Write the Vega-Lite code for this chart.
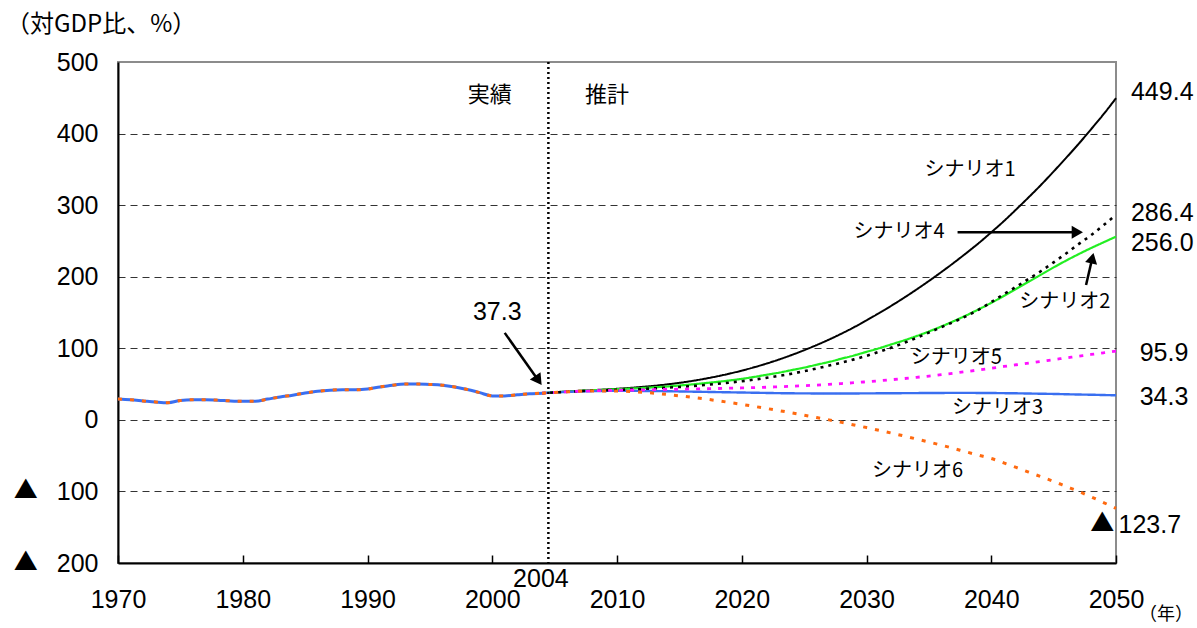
{
  "$schema": "https://vega.github.io/schema/vega-lite/v6.json",
  "width": 998,
  "height": 501,
  "autosize": "none",
  "padding": {"left": 118, "top": 62, "right": 81, "bottom": 65},
  "background": "white",
  "config": {
    "view": {"stroke": "#8c8c8c", "strokeWidth": 2},
    "font": "Liberation Sans"
  },
  "title": {
    "text": "（対GDP比、%）",
    "anchor": "start",
    "frame": "group",
    "dx": -112,
    "offset": 13,
    "font": "Noto Sans CJK JP",
    "fontSize": 24,
    "fontWeight": "normal",
    "color": "black"
  },
  "datasets": {
    "actual": [
      {"year": 1970, "value": 29}, {"year": 1971, "value": 28}, {"year": 1972, "value": 26.5},
      {"year": 1973, "value": 25}, {"year": 1974, "value": 24}, {"year": 1975, "value": 27},
      {"year": 1976, "value": 28}, {"year": 1977, "value": 28}, {"year": 1978, "value": 27.5},
      {"year": 1979, "value": 26.5}, {"year": 1980, "value": 26}, {"year": 1981, "value": 26},
      {"year": 1982, "value": 29}, {"year": 1983, "value": 32}, {"year": 1984, "value": 34.5},
      {"year": 1985, "value": 37.5}, {"year": 1986, "value": 40}, {"year": 1987, "value": 41.5},
      {"year": 1988, "value": 42}, {"year": 1989, "value": 42}, {"year": 1990, "value": 43},
      {"year": 1991, "value": 46}, {"year": 1992, "value": 48.5}, {"year": 1993, "value": 50},
      {"year": 1994, "value": 50}, {"year": 1995, "value": 49.5}, {"year": 1996, "value": 48.5},
      {"year": 1997, "value": 46}, {"year": 1998, "value": 42.5}, {"year": 1999, "value": 38},
      {"year": 2000, "value": 33.5}, {"year": 2001, "value": 33.5}, {"year": 2002, "value": 35},
      {"year": 2003, "value": 36.5}, {"year": 2004, "value": 37.3}
    ],
    "projection": [
      {"year": 2004, "s1": 37.3, "s2": 37.3, "s3": 37.3, "s4": 37.3, "s5": 37.3, "s6": 37.3},
      {"year": 2005, "s1": 38.5, "s2": 38.5, "s3": 38.3, "s4": 38.3, "s5": 38.3, "s6": 38.3},
      {"year": 2006, "s1": 39.6, "s2": 39.5, "s3": 39.1, "s4": 39.2, "s5": 39.2, "s6": 39.2},
      {"year": 2007, "s1": 40.6, "s2": 40.5, "s3": 39.7, "s4": 40.0, "s5": 40.0, "s6": 39.9},
      {"year": 2008, "s1": 41.5, "s2": 41.3, "s3": 40.1, "s4": 40.7, "s5": 40.5, "s6": 40.3},
      {"year": 2009, "s1": 42.4, "s2": 42.0, "s3": 40.4, "s4": 41.3, "s5": 41.0, "s6": 40.4},
      {"year": 2010, "s1": 43.4, "s2": 42.8, "s3": 40.5, "s4": 41.9, "s5": 41.3, "s6": 40.2},
      {"year": 2011, "s1": 44.6, "s2": 43.6, "s3": 40.5, "s4": 42.5, "s5": 41.6, "s6": 39.6},
      {"year": 2012, "s1": 46.0, "s2": 44.5, "s3": 40.4, "s4": 43.2, "s5": 41.9, "s6": 38.6},
      {"year": 2013, "s1": 47.6, "s2": 45.5, "s3": 40.2, "s4": 44.0, "s5": 42.2, "s6": 37.2},
      {"year": 2014, "s1": 49.5, "s2": 46.6, "s3": 40.0, "s4": 45.0, "s5": 42.5, "s6": 35.5},
      {"year": 2015, "s1": 51.7, "s2": 48.0, "s3": 39.7, "s4": 46.0, "s5": 42.8, "s6": 33.6},
      {"year": 2016, "s1": 54.3, "s2": 49.5, "s3": 39.4, "s4": 47.2, "s5": 43.1, "s6": 31.5},
      {"year": 2017, "s1": 57.3, "s2": 51.2, "s3": 39.1, "s4": 48.6, "s5": 43.4, "s6": 29.3},
      {"year": 2018, "s1": 60.7, "s2": 53.0, "s3": 38.8, "s4": 50.2, "s5": 43.8, "s6": 26.9},
      {"year": 2019, "s1": 64.5, "s2": 55.0, "s3": 38.5, "s4": 52.0, "s5": 44.2, "s6": 24.3},
      {"year": 2020, "s1": 68.8, "s2": 57.3, "s3": 38.2, "s4": 54.0, "s5": 44.6, "s6": 21.6},
      {"year": 2021, "s1": 73.5, "s2": 60.0, "s3": 37.9, "s4": 56.3, "s5": 45.1, "s6": 18.8},
      {"year": 2022, "s1": 78.7, "s2": 63.0, "s3": 37.6, "s4": 58.8, "s5": 45.6, "s6": 15.9},
      {"year": 2023, "s1": 84.4, "s2": 66.0, "s3": 37.3, "s4": 61.5, "s5": 46.2, "s6": 12.9},
      {"year": 2024, "s1": 90.6, "s2": 69.5, "s3": 37.1, "s4": 64.5, "s5": 46.9, "s6": 9.8},
      {"year": 2025, "s1": 97.3, "s2": 73.0, "s3": 37.0, "s4": 68.0, "s5": 47.7, "s6": 6.6},
      {"year": 2026, "s1": 104.5, "s2": 77.0, "s3": 36.9, "s4": 71.8, "s5": 48.6, "s6": 3.3},
      {"year": 2027, "s1": 112.2, "s2": 81.0, "s3": 36.9, "s4": 75.8, "s5": 49.6, "s6": 0.0},
      {"year": 2028, "s1": 120.5, "s2": 85.5, "s3": 36.9, "s4": 80.0, "s5": 50.7, "s6": -3.5},
      {"year": 2029, "s1": 129.4, "s2": 90.0, "s3": 36.9, "s4": 84.5, "s5": 51.9, "s6": -7.1},
      {"year": 2030, "s1": 139.0, "s2": 95.0, "s3": 37.0, "s4": 89.5, "s5": 53.2, "s6": -10.8},
      {"year": 2031, "s1": 149.0, "s2": 100.0, "s3": 37.1, "s4": 95.0, "s5": 54.6, "s6": -14.6},
      {"year": 2032, "s1": 159.5, "s2": 105.5, "s3": 37.2, "s4": 101.0, "s5": 56.1, "s6": -18.5},
      {"year": 2033, "s1": 170.5, "s2": 111.0, "s3": 37.3, "s4": 107.5, "s5": 57.7, "s6": -22.5},
      {"year": 2034, "s1": 182.0, "s2": 117.0, "s3": 37.4, "s4": 114.5, "s5": 59.4, "s6": -26.7},
      {"year": 2035, "s1": 194.0, "s2": 123.5, "s3": 37.5, "s4": 122.0, "s5": 61.2, "s6": -31.0},
      {"year": 2036, "s1": 206.5, "s2": 130.5, "s3": 37.6, "s4": 129.5, "s5": 63.2, "s6": -35.4},
      {"year": 2037, "s1": 219.5, "s2": 138.0, "s3": 37.7, "s4": 137.0, "s5": 65.3, "s6": -40.0},
      {"year": 2038, "s1": 233.0, "s2": 146.0, "s3": 37.7, "s4": 145.0, "s5": 67.5, "s6": -44.8},
      {"year": 2039, "s1": 247.0, "s2": 154.5, "s3": 37.6, "s4": 154.0, "s5": 69.8, "s6": -49.4},
      {"year": 2040, "s1": 262.0, "s2": 163.5, "s3": 37.5, "s4": 164.5, "s5": 72.2, "s6": -54.0},
      {"year": 2041, "s1": 277.5, "s2": 173.0, "s3": 37.3, "s4": 175.5, "s5": 74.6, "s6": -60.0},
      {"year": 2042, "s1": 294.0, "s2": 183.0, "s3": 37.1, "s4": 186.0, "s5": 77.0, "s6": -66.5},
      {"year": 2043, "s1": 311.0, "s2": 193.0, "s3": 36.8, "s4": 197.0, "s5": 79.4, "s6": -73.0},
      {"year": 2044, "s1": 328.5, "s2": 203.0, "s3": 36.5, "s4": 208.0, "s5": 81.8, "s6": -79.5},
      {"year": 2045, "s1": 347.0, "s2": 213.0, "s3": 36.2, "s4": 220.0, "s5": 84.2, "s6": -86.0},
      {"year": 2046, "s1": 366.0, "s2": 222.5, "s3": 35.8, "s4": 232.5, "s5": 86.6, "s6": -93.0},
      {"year": 2047, "s1": 385.5, "s2": 231.5, "s3": 35.4, "s4": 245.5, "s5": 89.0, "s6": -100.0},
      {"year": 2048, "s1": 406.0, "s2": 240.0, "s3": 35.1, "s4": 258.0, "s5": 91.4, "s6": -107.5},
      {"year": 2049, "s1": 427.0, "s2": 248.0, "s3": 34.7, "s4": 272.0, "s5": 93.7, "s6": -115.5},
      {"year": 2050, "s1": 449.4, "s2": 256.0, "s3": 34.3, "s4": 286.4, "s5": 95.9, "s6": -123.7}
    ],
    "scenarioLabels": [
      {"year": 2038.3, "value": 349, "text": "シナリオ1"},
      {"year": 2032.6, "value": 262, "text": "シナリオ4"},
      {"year": 2045.9, "value": 164, "text": "シナリオ2"},
      {"year": 2037.2, "value": 87, "text": "シナリオ5"},
      {"year": 2040.5, "value": 16, "text": "シナリオ3"},
      {"year": 2034.1, "value": -71, "text": "シナリオ6"}
    ],
    "periodLabels": [
      {"year": 1999.8, "value": 454, "text": "実績"},
      {"year": 2009.2, "value": 454, "text": "推計"}
    ],
    "endLabels": [
      {"year": 2051.2, "value": 458, "text": "449.4"},
      {"year": 2051.2, "value": 289, "text": "286.4"},
      {"year": 2051.2, "value": 247, "text": "256.0"},
      {"year": 2051.9, "value": 93, "text": "95.9"},
      {"year": 2051.9, "value": 32, "text": "34.3"},
      {"year": 2050.2, "value": -147, "text": "123.7"}
    ],
    "minusMarks": [
      {"year": 1962.6, "value": -100},
      {"year": 1962.6, "value": -200},
      {"year": 2048.9, "value": -146}
    ],
    "arrows": [
      {"id": "a1", "year": 2001.0, "value": 121.5, "year2": 2003.7, "value2": 55},
      {"id": "a2", "year": 2037.3, "value": 262, "year2": 2046.9, "value2": 262},
      {"id": "a3", "year": 2047.6, "value": 188.5, "year2": 2048.1, "value2": 226}
    ]
  },
  "layer": [
    {
      "data": {"name": "actual"},
      "mark": {"type": "line", "color": "#3a6ff0", "strokeWidth": 3, "interpolate": "monotone"},
      "encoding": {
        "x": {
          "field": "year",
          "type": "quantitative",
          "scale": {"domain": [1970, 2050], "nice": false, "zero": false},
          "axis": {
            "title": null,
            "values": [1970, 1980, 1990, 2000, 2010, 2020, 2030, 2040, 2050],
            "format": "d",
            "grid": false,
            "domainColor": "black",
            "domainWidth": 2,
            "tickColor": "black",
            "tickWidth": 1.5,
            "tickSize": -8,
            "labelFontSize": 25,
            "labelColor": "black",
            "labelPadding": 32,
            "labelFlush": false,
            "labelOverlap": false
          }
        },
        "y": {
          "field": "value",
          "type": "quantitative",
          "scale": {"domain": [-200, 500], "nice": false, "zero": false},
          "axis": {
            "title": null,
            "values": [-200, -100, 0, 100, 200, 300, 400, 500],
            "labelExpr": "'' + abs(datum.value)",
            "grid": true,
            "gridColor": "#333333",
            "gridDash": [7, 5],
            "gridWidth": 1,
            "gridOpacity": {"condition": {"test": "datum.value == 500 || datum.value == -200", "value": 0}, "value": 1},
            "domainColor": "black",
            "domainWidth": 2,
            "ticks": false,
            "labelFontSize": 25,
            "labelColor": "black",
            "labelPadding": 20,
            "labelFlush": false,
            "labelOverlap": false
          }
        }
      }
    },
    {
      "data": {"name": "actual"},
      "mark": {"type": "line", "color": "#ff6a10", "strokeWidth": 3, "strokeDash": [4, 8], "interpolate": "monotone"},
      "encoding": {
        "x": {"field": "year", "type": "quantitative"},
        "y": {"field": "value", "type": "quantitative"}
      }
    },
    {
      "data": {"name": "projection"},
      "transform": [
        {"fold": ["s1", "s2", "s3", "s4", "s5", "s6"], "as": ["scenario", "value"]}
      ],
      "mark": {"type": "line", "interpolate": "monotone"},
      "encoding": {
        "x": {"field": "year", "type": "quantitative"},
        "y": {"field": "value", "type": "quantitative"},
        "color": {
          "field": "scenario",
          "type": "nominal",
          "legend": null,
          "scale": {
            "domain": ["s1", "s2", "s3", "s4", "s5", "s6"],
            "range": ["#000000", "#22ee22", "#3a6ff0", "#000000", "#ff10ff", "#ff6a10"]
          }
        },
        "strokeDash": {
          "field": "scenario",
          "type": "nominal",
          "legend": null,
          "scale": {
            "domain": ["s1", "s2", "s3", "s4", "s5", "s6"],
            "range": [[1, 0], [1, 0], [1, 0], [3, 5], [4, 7], [4, 8]]
          }
        },
        "strokeWidth": {
          "field": "scenario",
          "type": "nominal",
          "legend": null,
          "scale": {
            "domain": ["s1", "s2", "s3", "s4", "s5", "s6"],
            "range": [2, 3, 3, 3, 3, 3]
          }
        }
      }
    },
    {
      "data": {"values": [{}]},
      "mark": {"type": "rule", "color": "black", "strokeWidth": 2.5, "strokeDash": [2, 3]},
      "encoding": {"x": {"datum": 2004.5, "type": "quantitative"}}
    },
    {
      "data": {"name": "arrows"},
      "mark": {"type": "rule", "color": "black", "strokeWidth": 2.5},
      "encoding": {
        "x": {"field": "year", "type": "quantitative"},
        "y": {"field": "value", "type": "quantitative"},
        "x2": {"field": "year2"},
        "y2": {"field": "value2"}
      }
    },
    {
      "data": {"name": "arrows"},
      "transform": [{"filter": "datum.id == 'a1'"}],
      "mark": {"type": "point", "shape": "triangle-up", "filled": true, "color": "black", "opacity": 1, "size": 170, "angle": 145},
      "encoding": {
        "x": {"field": "year2", "type": "quantitative"},
        "y": {"field": "value2", "type": "quantitative"}
      }
    },
    {
      "data": {"name": "arrows"},
      "transform": [{"filter": "datum.id == 'a2'"}],
      "mark": {"type": "point", "shape": "triangle-up", "filled": true, "color": "black", "opacity": 1, "size": 170, "angle": 90},
      "encoding": {
        "x": {"field": "year2", "type": "quantitative"},
        "y": {"field": "value2", "type": "quantitative"}
      }
    },
    {
      "data": {"name": "arrows"},
      "transform": [{"filter": "datum.id == 'a3'"}],
      "mark": {"type": "point", "shape": "triangle-up", "filled": true, "color": "black", "opacity": 1, "size": 150, "angle": 13},
      "encoding": {
        "x": {"field": "year2", "type": "quantitative"},
        "y": {"field": "value2", "type": "quantitative"}
      }
    },
    {
      "data": {"name": "minusMarks"},
      "mark": {"type": "text", "text": "▲", "font": "Noto Sans CJK JP", "fontSize": 24, "align": "center", "baseline": "middle", "color": "black"},
      "encoding": {
        "x": {"field": "year", "type": "quantitative"},
        "y": {"field": "value", "type": "quantitative"}
      }
    },
    {
      "data": {"name": "scenarioLabels"},
      "mark": {"type": "text", "font": "Noto Sans CJK JP", "fontSize": 20, "align": "center", "baseline": "middle", "color": "black"},
      "encoding": {
        "x": {"field": "year", "type": "quantitative"},
        "y": {"field": "value", "type": "quantitative"},
        "text": {"field": "text"}
      }
    },
    {
      "data": {"name": "periodLabels"},
      "mark": {"type": "text", "font": "Noto Sans CJK JP", "fontSize": 22, "align": "center", "baseline": "middle", "color": "black"},
      "encoding": {
        "x": {"field": "year", "type": "quantitative"},
        "y": {"field": "value", "type": "quantitative"},
        "text": {"field": "text"}
      }
    },
    {
      "data": {"name": "endLabels"},
      "mark": {"type": "text", "fontSize": 25, "align": "left", "baseline": "middle", "color": "black"},
      "encoding": {
        "x": {"field": "year", "type": "quantitative"},
        "y": {"field": "value", "type": "quantitative"},
        "text": {"field": "text"}
      }
    },
    {
      "data": {"values": [{"year": 2000.4, "value": 151, "text": "37.3"}, {"year": 2003.9, "value": -222, "text": "2004"}]},
      "mark": {"type": "text", "fontSize": 25, "align": "center", "baseline": "middle", "color": "black"},
      "encoding": {
        "x": {"field": "year", "type": "quantitative"},
        "y": {"field": "value", "type": "quantitative"},
        "text": {"field": "text"}
      }
    },
    {
      "data": {"values": [{"year": 2054.0, "value": -272, "text": "（年）"}]},
      "mark": {"type": "text", "font": "Noto Sans CJK JP", "fontSize": 18, "align": "center", "baseline": "middle", "color": "black"},
      "encoding": {
        "x": {"field": "year", "type": "quantitative"},
        "y": {"field": "value", "type": "quantitative"},
        "text": {"field": "text"}
      }
    }
  ]
}
